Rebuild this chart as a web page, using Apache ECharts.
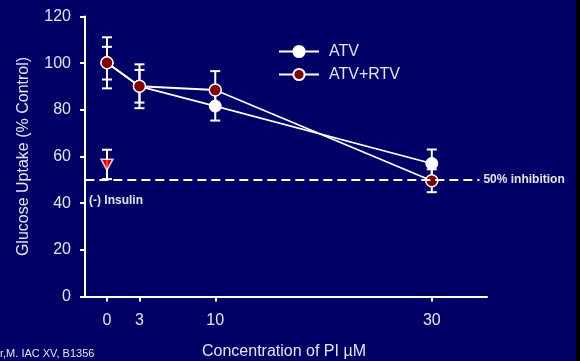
<!DOCTYPE html>
<html>
<head>
<meta charset="utf-8">
<script src="https://cdn.jsdelivr.net/npm/echarts@6/dist/echarts.min.js"></script>
<style>
  html, body { margin: 0; padding: 0; background: #000066; }
  #chart { width: 580px; height: 361px; }
</style>
</head>
<body>
<div id="chart"></div>
<script>
// concentrations (µM)
const conc = [0, 3, 10, 30];
const xTicks = [0, 3, 10, 30];

// ATV
const atvMean = [100.2, 90.1, 81.6, 57];
const atvLow = [89.2, 80.7, 75.4, 51];
const atvHigh = [111.1, 99.5, 87.8, 63];

// ATV+RTV
const rtvMean = [100.2, 90.1, 88.5, 49.6];
const rtvLow = [93, 83.1, 80.5, 44.7];
const rtvHigh = [107, 97.1, 96.6, 54.5];

// (-) insulin
const insX = [0];
const insMean = [56.5];
const insLow = [50.3];
const insHigh = [62.9];

const inhibition = 50;

const txt = "#e4e4ec";
const font = "Liberation Sans, Arial, sans-serif";

function pairs(xs, ys) {
  return xs.map((x, i) => [x, ys[i]]);
}
function errData(xs, lo, hi) {
  return xs.map((x, i) => [x, lo[i], hi[i]]);
}

// error bar with caps
function renderErr(params, api) {
  const x = api.value(0);
  const lo = api.coord([x, api.value(1)]);
  const hi = api.coord([x, api.value(2)]);
  const w = 5;
  const style = { stroke: "#ffffff", lineWidth: 2 };
  return {
    type: "group",
    children: [
      { type: "line", shape: { x1: lo[0], y1: lo[1], x2: hi[0], y2: hi[1] }, style },
      { type: "line", shape: { x1: lo[0] - w, y1: lo[1], x2: lo[0] + w, y2: lo[1] }, style },
      { type: "line", shape: { x1: hi[0] - w, y1: hi[1], x2: hi[0] + w, y2: hi[1] }, style },
    ],
  };
}

const chart = echarts.init(document.getElementById("chart"), null, { renderer: "canvas" });

const option = {
  backgroundColor: "#000066",
  animation: false,
  textStyle: { fontFamily: font },
  grid: { left: 81, right: 93, top: 16.5, bottom: 64.5, outerBoundsMode: "none", containLabel: false },
  legend: {
    data: ["ATV", "ATV+RTV"],
    orient: "vertical",
    left: 278,
    top: 43.5,
    padding: 0,
    itemWidth: 40,
    itemHeight: 14,
    itemGap: 7,
    textStyle: { color: txt, fontSize: 16, fontFamily: font, padding: [0, 0, 0, 5] },
  },
  xAxis: {
    type: "value",
    min: -2.4,
    max: 35.1,
    name: "Concentration of PI \u00b5M",
    nameLocation: "middle",
    nameGap: 47,
    nameTextStyle: { color: txt, fontSize: 16, fontFamily: font },
    axisLine: { onZero: false, lineStyle: { color: "#ffffff", width: 2 } },
    axisTick: { show: true, customValues: xTicks, length: 5, lineStyle: { color: "#ffffff", width: 2 } },
    axisLabel: { customValues: xTicks, color: txt, fontSize: 16, margin: 16, fontFamily: font },
    splitLine: { show: false },
  },
  yAxis: {
    type: "value",
    min: 0,
    max: 120,
    interval: 20,
    offset: -4,
    name: "Glucose Uptake (% Control)",
    nameLocation: "middle",
    nameGap: 53,
    nameTextStyle: { color: txt, fontSize: 16, fontFamily: font },
    axisLine: { show: true, onZero: false, lineStyle: { color: "#ffffff", width: 2 } },
    axisTick: { show: true, length: 5, lineStyle: { color: "#ffffff", width: 2 } },
    axisLabel: { color: txt, fontSize: 16, margin: 14, fontFamily: font },
    splitLine: { show: false },
  },
  series: [
    {
      name: "errATV",
      type: "custom",
      renderItem: renderErr,
      data: errData(conc, atvLow, atvHigh),
      encode: { x: 0, y: [1, 2] },
      z: 1,
    },
    {
      name: "errRTV",
      type: "custom",
      renderItem: renderErr,
      data: errData(conc, rtvLow, rtvHigh),
      encode: { x: 0, y: [1, 2] },
      z: 1,
    },
    {
      name: "errIns",
      type: "custom",
      renderItem: renderErr,
      data: errData(insX, insLow, insHigh),
      encode: { x: 0, y: [1, 2] },
      z: 1,
    },
    {
      name: "ATV",
      type: "line",
      data: pairs(conc, atvMean),
      symbol: "circle",
      symbolSize: 12,
      lineStyle: { color: "#ffffff", width: 1.8 },
      itemStyle: { color: "#ffffff", borderColor: "#ffffff", borderWidth: 1 },
      z: 3,
      markLine: {
        silent: true,
        symbol: "none",
        lineStyle: { color: "#ffffff", type: [9, 5], width: 2 },
        label: {
          show: true,
          position: "end",
          formatter: "50% inhibition",
          color: txt,
          fontSize: 12,
          fontWeight: "bold",
          fontFamily: font,
          distance: 4,
        },
        data: [[{ coord: [-2, inhibition] }, { coord: [34.4, inhibition] }]],
      },
    },
    {
      name: "ATV+RTV",
      type: "line",
      data: pairs(conc, rtvMean),
      symbol: "circle",
      symbolSize: 12,
      lineStyle: { color: "#ffffff", width: 1.8 },
      itemStyle: { color: "#800000", borderColor: "#ffffff", borderWidth: 1.5 },
      z: 4,
    },
    {
      name: "insulin",
      type: "scatter",
      data: pairs(insX, insMean),
      symbol: "triangle",
      symbolRotate: 180,
      symbolSize: [12, 11],
      itemStyle: { color: "#ff0000", borderColor: "#ffffff", borderWidth: 1.5 },
      z: 4,
    },
  ],
  graphic: [
    {
      type: "text",
      left: 89,
      top: 195,
      style: { text: "(-) Insulin", fill: txt, font: "bold 12px " + font },
    },
    {
      type: "text",
      left: 0,
      top: 348,
      style: { text: "r,M. IAC XV, B1356", fill: txt, font: "11px " + font },
    },
    {
      type: "rect",
      shape: { x: 576, y: 0, width: 4, height: 361 },
      style: { fill: "#000000" },
    },
  ],
};

chart.setOption(option);
</script>
</body>
</html>
